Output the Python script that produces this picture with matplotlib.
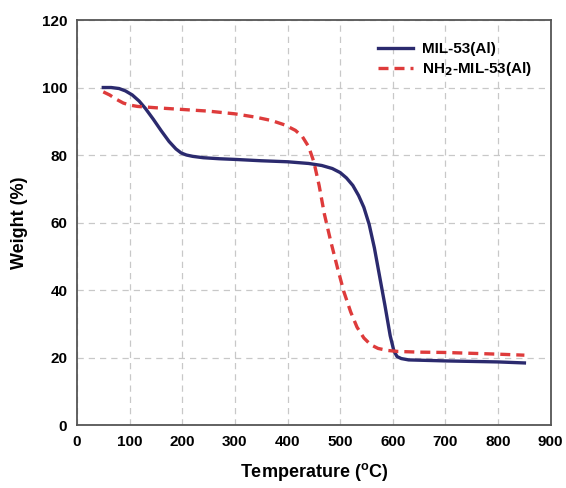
import matplotlib
matplotlib.use("Agg")
import matplotlib.pyplot as plt

# TGA curves
temp_mil = [50, 65, 80, 92, 105, 118, 130, 145, 160, 175, 188, 198, 208, 220,
            240, 270, 300, 350, 400, 440, 465, 485, 500, 512, 524, 535, 545,
            555, 565, 575, 585, 595, 602, 608, 616, 630, 700, 800, 850]
weight_mil = [100, 100, 99.7, 99.0, 97.8, 96.0, 93.8, 90.6, 87.2, 84.0, 81.8,
              80.6, 80.0, 79.6, 79.2, 78.9, 78.7, 78.3, 78.0, 77.5, 76.9, 76.0,
              74.8, 73.2, 71.0, 68.0, 64.5, 59.5, 52.5, 44.0, 35.5, 26.5, 22.0,
              20.3, 19.7, 19.3, 19.0, 18.7, 18.4]

temp_nh2 = [50, 62, 75, 88, 100, 115, 150, 200, 250, 300, 340, 370, 395, 415,
            428, 440, 450, 460, 470, 482, 495, 507, 520, 532, 545, 558, 572,
            590, 610, 650, 700, 800, 850]
weight_nh2 = [98.7, 97.8, 96.5, 95.4, 94.8, 94.4, 94.0, 93.5, 93.0, 92.2, 91.2,
              90.2, 88.9, 87.3, 85.5, 82.5, 78.0, 71.0, 62.5, 54.5, 46.5, 39.5,
              33.5, 29.0, 25.8, 23.8, 22.7, 22.1, 21.8, 21.6, 21.5, 21.0, 20.7]

x_ticks = list(range(0, 1000, 100))
y_ticks = list(range(0, 140, 20))

plt.rcParams["font.family"] = ["Liberation Sans", "DejaVu Sans"]
plt.rcParams["font.weight"] = "bold"
plt.rcParams["mathtext.default"] = "bf"

fig = plt.figure(figsize=(5.66, 4.88), dpi=100)
ax = fig.add_axes([0.136, 0.129, 0.837, 0.830])

ax.plot(temp_mil, weight_mil, color="#2b2a6e", lw=2.4, label="MIL-53(Al)")
ax.plot(temp_nh2, weight_nh2, color="#de3b3b", lw=2.4, ls=(0, (3, 1.8)),
        label="NH$_2$-MIL-53(Al)")

ax.set_xlim(0, 900)
ax.set_ylim(0, 120)
ax.set_xticks(x_ticks)
ax.set_yticks(y_ticks)
ax.grid(True, color="#c8c8c8", ls=(0, (5, 4)), lw=0.9)
ax.tick_params(length=0, pad=7, labelsize=11)
for s in ax.spines.values():
    s.set_color("#555555")
    s.set_linewidth(1.3)

ax.set_xlabel("Temperature ($^\\mathregular{o}$C)", fontsize=13,
              fontweight="bold", labelpad=9)
ax.set_ylabel("Weight (%)", fontsize=13, fontweight="bold", labelpad=10)

leg = ax.legend(loc="upper right", bbox_to_anchor=(0.99, 0.98), frameon=False,
                fontsize=11, handlelength=2.3, handletextpad=0.6,
                labelspacing=0.3)
for t in leg.get_texts():
    t.set_fontweight("bold")

fig.savefig("out.png", dpi=100)
